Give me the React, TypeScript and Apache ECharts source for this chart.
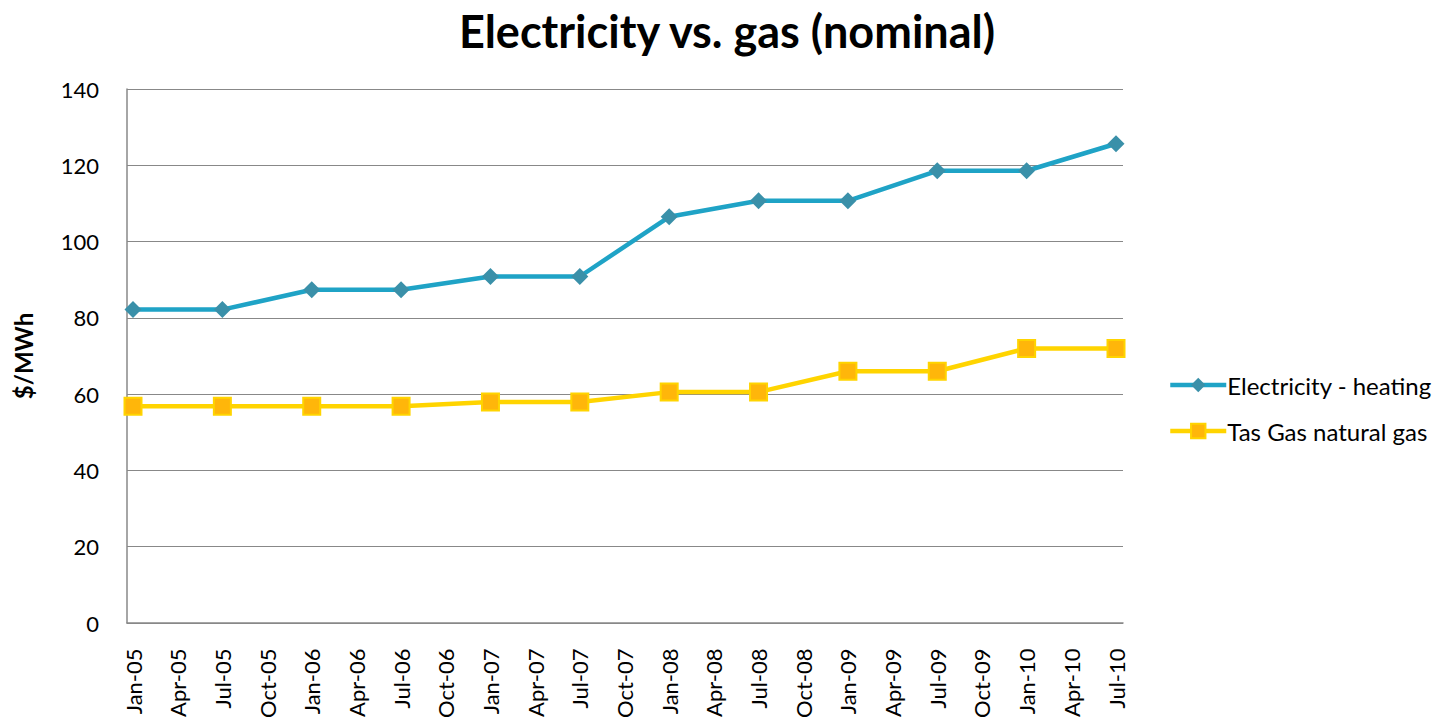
import React, { useEffect, useRef } from "react";
import * as echarts from "echarts";

const categories = [
  "Jan-05", "Apr-05", "Jul-05", "Oct-05",
  "Jan-06", "Apr-06", "Jul-06", "Oct-06",
  "Jan-07", "Apr-07", "Jul-07", "Oct-07",
  "Jan-08", "Apr-08", "Jul-08", "Oct-08",
  "Jan-09", "Apr-09", "Jul-09", "Oct-09",
  "Jan-10", "Apr-10", "Jul-10",
];

const electricity = [
  82.0, null, 82.0, null,
  87.2, null, 87.2, null,
  90.7, null, 90.7, null,
  106.4, null, 110.6, null,
  110.6, null, 118.5, null,
  118.5, null, 125.6,
];

const gas = [
  56.6, null, 56.6, null,
  56.6, null, 56.6, null,
  57.7, null, 57.7, null,
  60.3, null, 60.3, null,
  65.8, null, 65.8, null,
  71.8, null, 71.8,
];

const FONT = "Lato, 'Open Sans', sans-serif";

export default function App() {
  const ref = useRef<HTMLDivElement>(null);
  useEffect(() => {
    if (!ref.current) return;
    const chart = echarts.init(ref.current, undefined, { renderer: "svg" });
    chart.setOption({
      animation: false,
      backgroundColor: "#ffffff",
      textStyle: { fontFamily: FONT },
      title: {
        text: "Electricity vs. gas (nominal)",
        left: 722,
        textAlign: "center",
        top: 3,
        textStyle: { fontSize: 45, fontWeight: "bold", color: "#000", fontFamily: FONT },
      },
      legend: {
        orient: "vertical",
        left: 1163,
        top: 368,
        itemGap: 22,
        itemWidth: 56,
        itemHeight: 18,
        lineStyle: { width: 4.5 },
        textStyle: { fontSize: 24, color: "#000", fontFamily: FONT, padding: [0, 0, 0, -4] },
        data: ["Electricity - heating", "Tas Gas natural gas"],
      },
      grid: [
        { left: 127, right: 311, top: 89, bottom: 98, containLabel: false },
        { left: 133, right: 318, top: 89, bottom: 98, containLabel: false },
      ],
      xAxis: [
        {
          type: "category",
          gridIndex: 0,
          data: categories,
          boundaryGap: false,
          axisLine: { show: true, lineStyle: { color: "#888", width: 1.5 } },
          axisTick: { show: false },
          axisLabel: { show: false },
        },
        {
          type: "category",
          gridIndex: 1,
          data: categories,
          boundaryGap: false,
          axisLine: { show: false },
          axisTick: { show: false },
          axisLabel: {
            rotate: 90,
            interval: 0,
            fontSize: 22,
            color: "#000",
            margin: 27,
            fontFamily: FONT,
          },
        },
      ],
      yAxis: [
        {
          type: "value",
          gridIndex: 0,
          min: 0,
          max: 140,
          interval: 20,
          name: "$/MWh",
          nameLocation: "middle",
          nameGap: 92,
          nameRotate: 90,
          nameTextStyle: { fontSize: 24, fontWeight: "bold", color: "#000", fontFamily: FONT },
          axisLine: { show: true, lineStyle: { color: "#888", width: 1.5 } },
          axisTick: { show: false },
          splitLine: { show: true, lineStyle: { color: "#888", width: 1.2 } },
          axisLabel: { fontSize: 22, color: "#000", margin: 28, fontFamily: FONT },
        },
        {
          type: "value",
          gridIndex: 1,
          min: 0,
          max: 140,
          interval: 20,
          show: false,
          splitLine: { show: false },
        },
      ],
      series: [
        {
          name: "Electricity - heating",
          type: "line",
          xAxisIndex: 1,
          yAxisIndex: 1,
          data: electricity,
          connectNulls: true,
          symbol: "diamond",
          symbolSize: 17,
          lineStyle: { color: "#1fa3c6", width: 4.5 },
          itemStyle: { color: "#3a90a9", borderColor: "#3a90a9", borderWidth: 0 },
          z: 3,
        },
        {
          name: "Tas Gas natural gas",
          type: "line",
          xAxisIndex: 1,
          yAxisIndex: 1,
          data: gas,
          connectNulls: true,
          symbol: "rect",
          symbolSize: 17,
          lineStyle: { color: "#ffd400", width: 4.5 },
          itemStyle: { color: "#ffb60a", borderColor: "#ffd400", borderWidth: 2 },
          z: 2,
        },
      ],
    });
    return () => chart.dispose();
  }, []);
  return <div ref={ref} style={{ width: 1434, height: 721, position: "absolute", left: 0, top: 0 }} />;
}
